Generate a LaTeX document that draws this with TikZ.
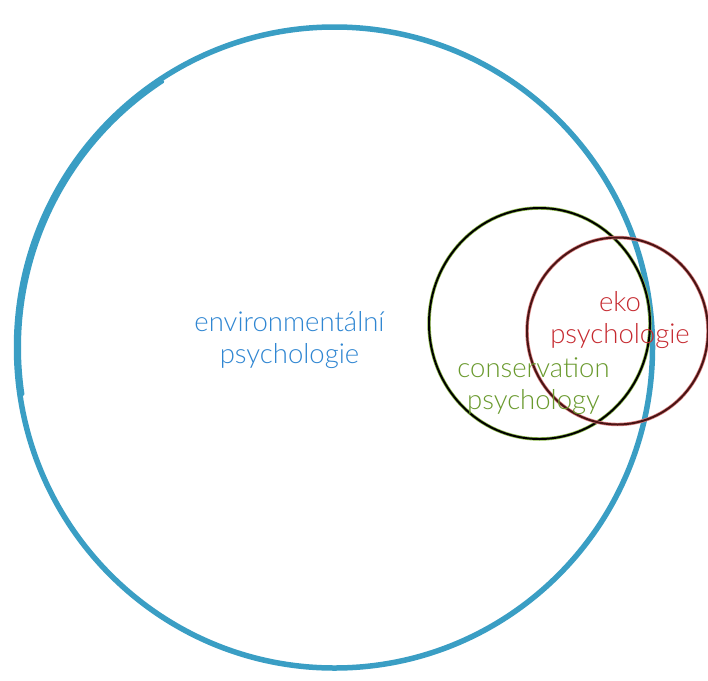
\documentclass[tikz,border=0pt]{standalone}
\usepackage{fontspec}
\IfFontExistsTF{Lato Light}{\setmainfont{Lato Light}}{\setmainfont{Lato}}
\usetikzlibrary{calc}
\definecolor{envblue}{HTML}{3A9EC4}
\definecolor{envtext}{HTML}{2F86D2}
\definecolor{consgreen}{HTML}{6A9A2E}
\definecolor{consring}{HTML}{8DB84A}
\definecolor{ekored}{HTML}{C62A30}
\definecolor{ekoring}{HTML}{4A1414}
\definecolor{ekohalo}{HTML}{D98080}
\tikzset{
  lbl/.style={align=center, font=\fontsize{27.5}{32}\selectfont, inner sep=0pt},
}
\begin{document}
\begin{tikzpicture}[x=1pt,y=-1pt]
\useasboundingbox[fill=white] (0,0) rectangle (708,680);
\coordinate (cb) at (334.5,347.5);
\coordinate (cg) at (539.5,323.5);
\coordinate (cr) at (617.5,331);
% big blue circle
\draw[envblue, line width=5.5pt] (cb) ellipse [x radius=318, y radius=320.5];
\draw[envblue, line width=3pt, line cap=round] ($(cb)+(237:315 and 317)$) arc[start angle=237, end angle=171.5, x radius=315, y radius=317];
% green circle
\draw[consring, line width=3.4pt] (cg) ellipse [x radius=110.5, y radius=115.5];
\draw[black, line width=2pt] (cg) ellipse [x radius=110.5, y radius=115.5];
% red circle
\draw[ekohalo, line width=3.4pt] (cr) ellipse [x radius=90.5, y radius=93.5];
\draw[ekoring, line width=2pt] (cr) ellipse [x radius=90.5, y radius=93.5];
% labels
\node[lbl, text=envtext] (env) at (289.5,340) {environmentální\\psychologie};
\node[lbl, text=consgreen] (cons) at (533.5,386) {conservation\\psychology};
\node[lbl, text=ekored] (eko) at (620,320) {eko\\psychologie};
\end{tikzpicture}
\end{document}
